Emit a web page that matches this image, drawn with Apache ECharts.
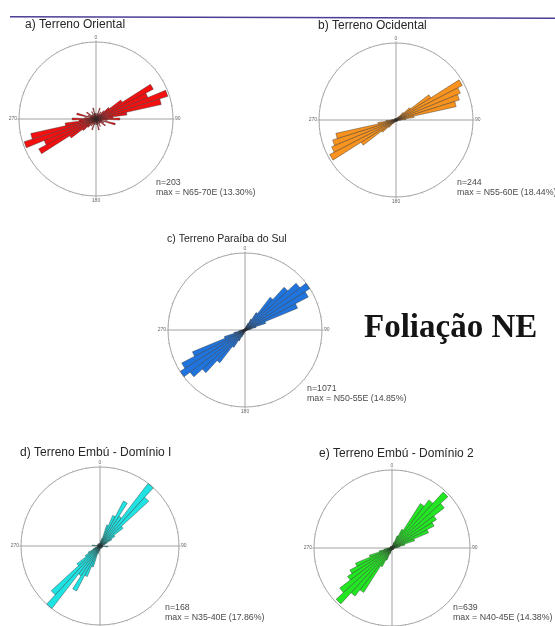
<!DOCTYPE html>
<html>
<head>
<meta charset="utf-8">
<script src="https://cdn.jsdelivr.net/npm/echarts@6/dist/echarts.min.js"></script>
<style>
  html, body { margin: 0; padding: 0; background: #fff; }
  #chart { width: 555px; height: 626px; }
</style>
</head>
<body>
<div id="chart"></div>
<script>
// Strike classes of 5°, N0-5E ... N175-180E (axial data, mirrored for 180-360)
const classStarts = Array.from({ length: 36 }, (_, i) => i * 5);

// Percent of measurements per class, one array per terrain
const orientalPct = [0.5, 0.5, 1.0, 2.0, 1.0, 0.5, 1.5, 1.0, 2.0, 3.0,
                     5.5, 11.4, 9.9, 13.3, 11.8, 5.5, 3.0, 4.2,
                     2.0, 1.0, 3.5, 1.0, 1.5, 1.0, 2.0, 0.5, 1.0, 1.0, 0.5, 1.5,
                     0.5, 1.0, 2.0, 1.0, 0.5, 1.0];
const ocidentalPct = [0.4, 0, 0.4, 0, 0.4, 0.4, 0.8, 1.2, 2.5, 4.5,
                      10.2, 18.44, 17.2, 16.4, 15.2, 4.5, 2.5, 1.2,
                      0.8, 0.4, 0.4, 0, 0.4, 0, 0.4, 0, 0.4, 0, 0.4, 0,
                      0.4, 0, 0.4, 0, 0.4, 0];
const paraibaPct = [0.3, 0.3, 0.5, 0.9, 1.4, 2.4, 4.0, 8.0, 11.2, 13.4,
                    14.85, 13.8, 11.0, 4.2, 2.2, 1.2, 0.8, 0.5,
                    0.4, 0.3, 0.3, 0.3, 0.2, 0.2, 0.2, 0.2, 0.2, 0.2, 0.2, 0.2,
                    0.2, 0.2, 0.2, 0.2, 0.3, 0.3];
const embu1Pct = [0.6, 1.2, 1.8, 5.0, 7.5, 11.5, 8.0, 17.86, 15.0, 6.6,
                  4.0, 3.0, 1.8, 1.2, 0.6, 0.6, 0.6, 0.6,
                  1.8, 0.6, 0.6, 0.6, 0, 0.6, 0, 0.6, 0, 0.6, 0, 0.6,
                  0, 0.6, 0, 0.6, 0, 0.6];
const embu2Pct = [0.3, 0.3, 0.6, 1.2, 2.5, 4.0, 10.0, 11.5, 14.38, 12.5,
                  10.0, 9.0, 7.5, 4.5, 2.5, 1.5, 1.0, 0.6,
                  0.3, 0.3, 0.3, 0.3, 0.3, 0.3, 0.3, 0.3, 0.3, 0.3, 0.3, 0.3,
                  0.3, 0.3, 0.3, 0.3, 0.3, 0.3];

const panelTitles = ['a) Terreno Oriental', 'b) Terreno Ocidental', 'c) Terreno Paraíba do Sul',
                     'd) Terreno Embú - Domínio I', 'e) Terreno Embú - Domínio 2'];
const sampleCounts = [203, 244, 1071, 168, 639];
const maxClasses = ['N65-70E (13.30%)', 'N55-60E (18.44%)', 'N50-55E (14.85%)',
                    'N35-40E (17.86%)', 'N40-45E (14.38%)'];
const compassLabels = { 0: '0', 90: '90', 180: '180', 270: '270' };

// Drawing layout for each rose
const panels = [
  { pct: orientalPct,  color: '#f21010', center: [96, 119],  r: 77, rMax: 13.6, title: [25, 19], title_fs: 12, note: [156, 178] },
  { pct: ocidentalPct, color: '#f7931e', center: [396, 120], r: 77, rMax: 19.0, title: [318, 20], title_fs: 12, note: [457, 178] },
  { pct: paraibaPct,   color: '#1f74de', center: [245, 330], r: 77, rMax: 14.9, title: [167, 234], title_fs: 10.5, note: [307, 384] },
  { pct: embu1Pct,     color: '#1fe3e3', center: [100, 546], r: 79, rMax: 17.9, title: [20, 447], title_fs: 12, note: [165, 603] },
  { pct: embu2Pct,     color: '#22e622', center: [392, 548], r: 78, rMax: 14.8, title: [319, 448], title_fs: 12, note: [453, 603] }
];

const dirCats = classStarts.concat(classStarts.map(v => v + 180)).map(String);

const polar = [], angleAxis = [], radiusAxis = [], series = [], title = [];
const hidden = { show: false };

panels.forEach((p, i) => {
  // frame: circle, compass cross, ticks and labels
  polar.push({ center: p.center, radius: p.r });
  angleAxis.push({
    polarIndex: 2 * i, type: 'value', min: 0, max: 360, interval: 90,
    startAngle: 90, clockwise: true,
    axisLine: { lineStyle: { color: '#8c8c8c', width: 0.8 } },
    axisTick: { show: true, length: 2, lineStyle: { color: '#a0a0a0', width: 0.6 } },
    minorTick: { show: true, splitNumber: 9, length: 1.5, lineStyle: { color: '#b0b0b0', width: 0.5 } },
    axisLabel: { fontSize: 5, color: '#666', margin: 2, fontFamily: 'Liberation Sans',
                 formatter: v => compassLabels[v] || '' },
    splitLine: { show: true, lineStyle: { color: '#8c8c8c', width: 0.8 } }
  });
  radiusAxis.push({ polarIndex: 2 * i, type: 'value', min: 0, max: 1,
    axisLine: hidden, axisTick: hidden, axisLabel: hidden, splitLine: hidden });

  // petals: each 5° class spans [start, start + 5) clockwise from north
  polar.push({ center: p.center, radius: p.r });
  angleAxis.push({
    polarIndex: 2 * i + 1, type: 'category', data: dirCats,
    startAngle: 87.5, clockwise: true,
    axisLine: hidden, axisTick: hidden, axisLabel: hidden, splitLine: hidden
  });
  radiusAxis.push({ polarIndex: 2 * i + 1, type: 'value', min: 0, max: p.rMax,
    axisLine: hidden, axisTick: hidden, axisLabel: hidden, splitLine: hidden });
  series.push({
    type: 'bar', coordinateSystem: 'polar', polarIndex: 2 * i + 1,
    data: p.pct.concat(p.pct), barCategoryGap: '0%', silent: true,
    itemStyle: { color: p.color, borderColor: '#2a2a2a', borderWidth: 0.4 }
  });

  title.push({
    text: panelTitles[i], left: p.title[0], top: p.title[1], padding: 0,
    textStyle: { fontFamily: 'Liberation Sans', fontSize: p.title_fs, fontWeight: 'normal', color: '#262626' }
  });
  title.push({
    text: 'n=' + sampleCounts[i] + '\nmax = ' + maxClasses[i],
    left: p.note[0], top: p.note[1], padding: 0,
    textStyle: { fontFamily: 'Liberation Sans', fontSize: 8.8, fontWeight: 'normal', color: '#4a4a4a', lineHeight: 10 }
  });
});

title.push({
  text: 'Foliação NE', left: 364, top: 312, padding: 0,
  textStyle: { fontFamily: 'Liberation Serif', fontSize: 33, fontWeight: 'bold', color: '#141414' }
});

const chart = echarts.init(document.getElementById('chart'), null, { renderer: 'canvas' });
chart.setOption({
  animation: false,
  backgroundColor: '#ffffff',
  title, polar, angleAxis, radiusAxis, series,
  graphic: [{
    type: 'line', silent: true,
    shape: { x1: 10, y1: 16.8, x2: 555, y2: 18.2 },
    style: { stroke: '#4c3d94', lineWidth: 1.5 }
  }]
});
</script>
</body>
</html>
